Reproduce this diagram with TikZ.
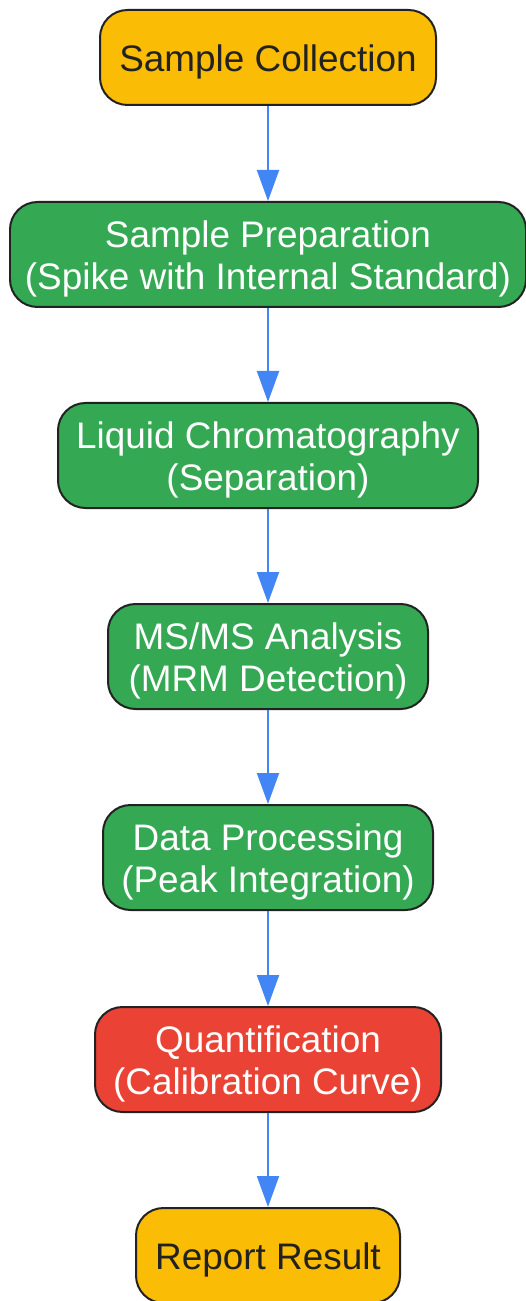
\documentclass[tikz,border=0pt]{standalone}
\usepackage{fontspec}
\setmainfont{Liberation Sans}
\usetikzlibrary{arrows.meta}
\definecolor{StepYellow}{HTML}{FBBC05}
\definecolor{StepGreen}{HTML}{34A853}
\definecolor{StepRed}{HTML}{EA4335}
\definecolor{FlowBlue}{HTML}{4285F4}
\definecolor{EdgeDark}{HTML}{222222}

\begin{document}
\begin{tikzpicture}[
            basebox/.style={draw=EdgeDark, line width=0.04cm, rounded corners=0.55cm,
                inner sep=0pt, align=center, font=\fontsize{21}{24}\selectfont},
            stepbox/.style={basebox, text=white, minimum height=2.1cm,
                execute at begin node={\rule{0pt}{1.57cm}}},
            endbox/.style={basebox, fill=StepYellow, text=EdgeDark, minimum height=1.9cm,
                execute at begin node={\rule{0pt}{0.73cm}}},
            flow/.style={draw=FlowBlue, line width=0.04cm, -{Triangle[width=0.44cm,length=0.62cm]}}
        ]
            \useasboundingbox (0, 0) rectangle (10.5, -26.02);

            \node[endbox, minimum width=6.72cm] (collect) at (5.36, -1.15) {Sample Collection};
            \node[stepbox, fill=StepGreen, minimum width=10.32cm] (prep) at (5.36, -5.09)
                {Sample Preparation\\(Spike with Internal Standard)};
            \node[stepbox, fill=StepGreen, minimum width=8.4cm] (lc) at (5.36, -9.11)
                {Liquid Chromatography\\(Separation)};
            \node[stepbox, fill=StepGreen, minimum width=6.4cm] (msms) at (5.36, -13.13)
                {MS/MS Analysis\\(MRM Detection)};
            \node[stepbox, fill=StepGreen, minimum width=6.6cm] (proc) at (5.36, -17.15)
                {Data Processing\\(Peak Integration)};
            \node[stepbox, fill=StepRed, minimum width=6.92cm] (quant) at (5.36, -21.19)
                {Quantification\\(Calibration Curve)};
            \node[endbox, minimum width=5.28cm] (report) at (5.36, -25.11) {Report Result};

            \draw[flow] (collect) -- (prep);
            \draw[flow] (prep) -- (lc);
            \draw[flow] (lc) -- (msms);
            \draw[flow] (msms) -- (proc);
            \draw[flow] (proc) -- (quant);
            \draw[flow] (quant) -- (report);
        \end{tikzpicture}
\end{document}
